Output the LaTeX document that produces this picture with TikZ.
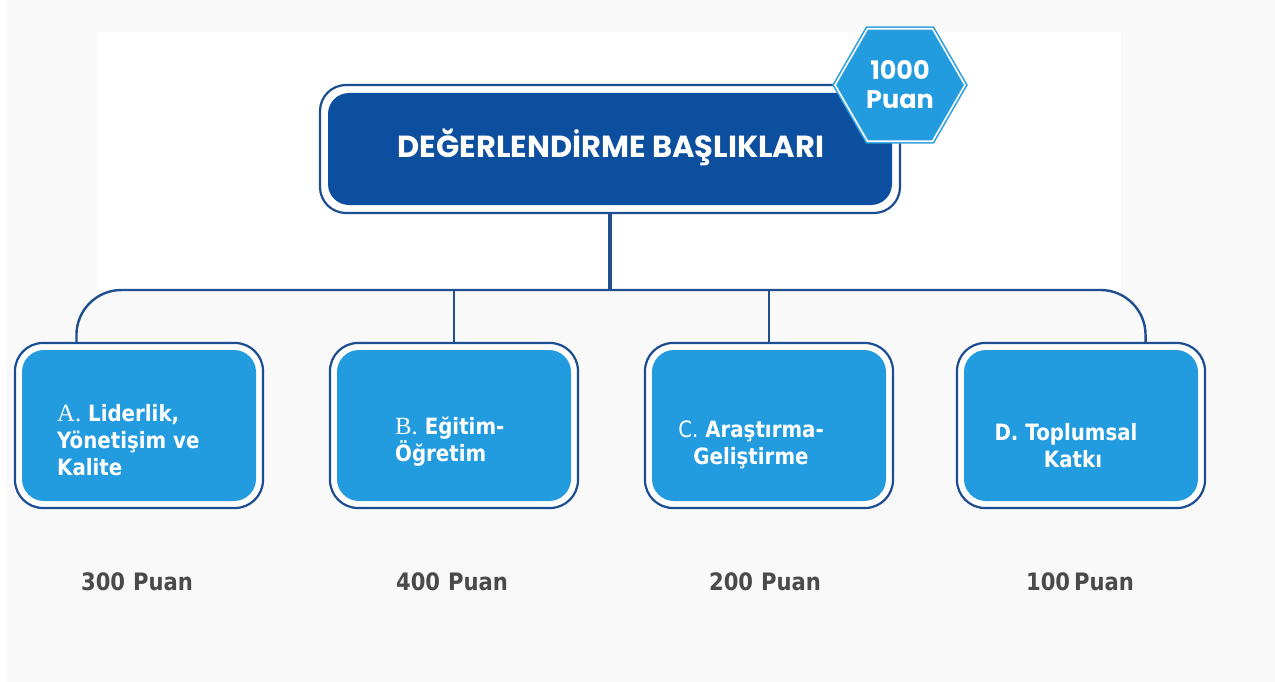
\documentclass[tikz,border=0pt]{standalone}
\usepackage{fontspec}
\usetikzlibrary{shapes.geometric,calc}
\newfontfamily\popfont{Poppins}
\newfontfamily\tahfont{DejaVu Sans}[FakeStretch=0.88]
\newfontfamily\serfont{Liberation Serif}[Scale=1.1]
\definecolor{pagegray}{HTML}{F9F9F9}
\definecolor{navyfill}{HTML}{0D4F9F}
\definecolor{navyline}{HTML}{1C4D92}
\definecolor{skyfill}{HTML}{229BDF}
\definecolor{skyline}{HTML}{2A9FE0}
\definecolor{wire}{HTML}{1F4F8F}
\definecolor{scoregray}{HTML}{4A4A4A}
\begin{document}
\begin{tikzpicture}[x=1pt,y=-1pt,
  mainouter/.style={draw=navyline, line width=2.2pt, fill=white, rounded corners=26pt,
    minimum width=580pt, minimum height=128pt, inner sep=0pt},
  maininner/.style={fill=navyfill, rounded corners=21pt,
    minimum width=564pt, minimum height=112pt, inner sep=0pt},
  titletext/.style={text=white, font=\popfont\bfseries\fontsize{30.5}{36}\selectfont},
  hexa/.style={regular polygon, regular polygon sides=6, minimum size=130pt,
    draw=skyline, line width=1.6pt, double=white, double distance=1.6pt,
    fill=skyfill, inner sep=0pt},
  hextext/.style={text=white, align=center,
    font=\popfont\bfseries\fontsize{25.5}{29}\selectfont},
  subouter/.style={draw=navyline, line width=2.2pt, fill=white, rounded corners=28pt,
    minimum width=248pt, minimum height=165pt, inner sep=0pt},
  subinner/.style={fill=skyfill, rounded corners=22pt,
    minimum width=234pt, minimum height=151pt, inner sep=0pt},
  boxtext/.style={text=white, inner sep=0pt,
    font=\tahfont\bfseries\fontsize{22.5}{27}\selectfont},
  score/.style={text=scoregray, font=\tahfont\bfseries\fontsize{24}{28}\selectfont},
  trunk/.style={draw=wire, line width=3.4pt},
  branch/.style={draw=wire, line width=2.4pt}]
\useasboundingbox (0,0) rectangle (1275,682);
% page background and upper white panel
\fill[pagegray] (0,0) rectangle (1275,682);
\fill[white] (0,0) rectangle (6,682);
\fill[white] (98,32) rectangle (1121,290);

% heading box
\node[mainouter] (main) at (610,149) {};
\node[maininner] (maininner) at (main.center) {};
\node[titletext] (title) at (611,147) {DEĞERLENDİRME BAŞLIKLARI};

% category boxes
\node[subouter] (A) at (139,425.5) {};
\node[subouter] (B) at (454,425.5) {};
\node[subouter] (C) at (769,425.5) {};
\node[subouter] (D) at (1081,425.5) {};

% connectors
\coordinate (bus) at (610,290);
\coordinate (Atop) at ($(A.north west)!0.25!(A.north east)$);
\coordinate (Dtop) at ($(D.north west)!0.758!(D.north east)$);
\draw[branch, rounded corners=45pt] (Atop) -- (Atop |- bus) -- (Dtop |- bus) -- (Dtop);
\draw[branch] (B.north) -- (B.north |- bus);
\draw[branch] (C.north) -- (C.north |- bus);
\draw[trunk] (main.south) -- (bus);

% inner fills of category boxes
\node[subinner] (Ain) at (A.center) {};
\node[subinner] (Bin) at (B.center) {};
\node[subinner] (Cin) at (C.center) {};
\node[subinner] (Din) at (D.center) {};

% total score badge
\node[hexa] (hex) at (900,85) {};
\node[hextext] (hexlabel) at (hex.center) {1000\\Puan};

% category labels
\node[boxtext, align=left, anchor=west] (Atext) at (57,440)
  {{\serfont\mdseries A.} Liderlik,\\Yönetişim ve\\Kalite};
\node[boxtext, align=left, anchor=west] (Btext) at (395,441.5)
  {{\serfont\mdseries B.} Eğitim-\\Öğretim};
\node[boxtext, align=center] (Ctext) at (751,445)
  {{\mdseries C.} Araştırma-\\Geliştirme};
\node[boxtext, align=center] (Dtext) at (1066,446)
  {D. Toplumsal\\\hspace*{14pt}Katkı};

% scores
\node[score] (Ascore) at (137,582) {300\,\,Puan};
\node[score] (Bscore) at (452,582) {400\,\,Puan};
\node[score] (Cscore) at (765,582) {200\,\,Puan};
\node[score] (Dscore) at (1080,582) {100\,Puan};
\end{tikzpicture}
\end{document}
